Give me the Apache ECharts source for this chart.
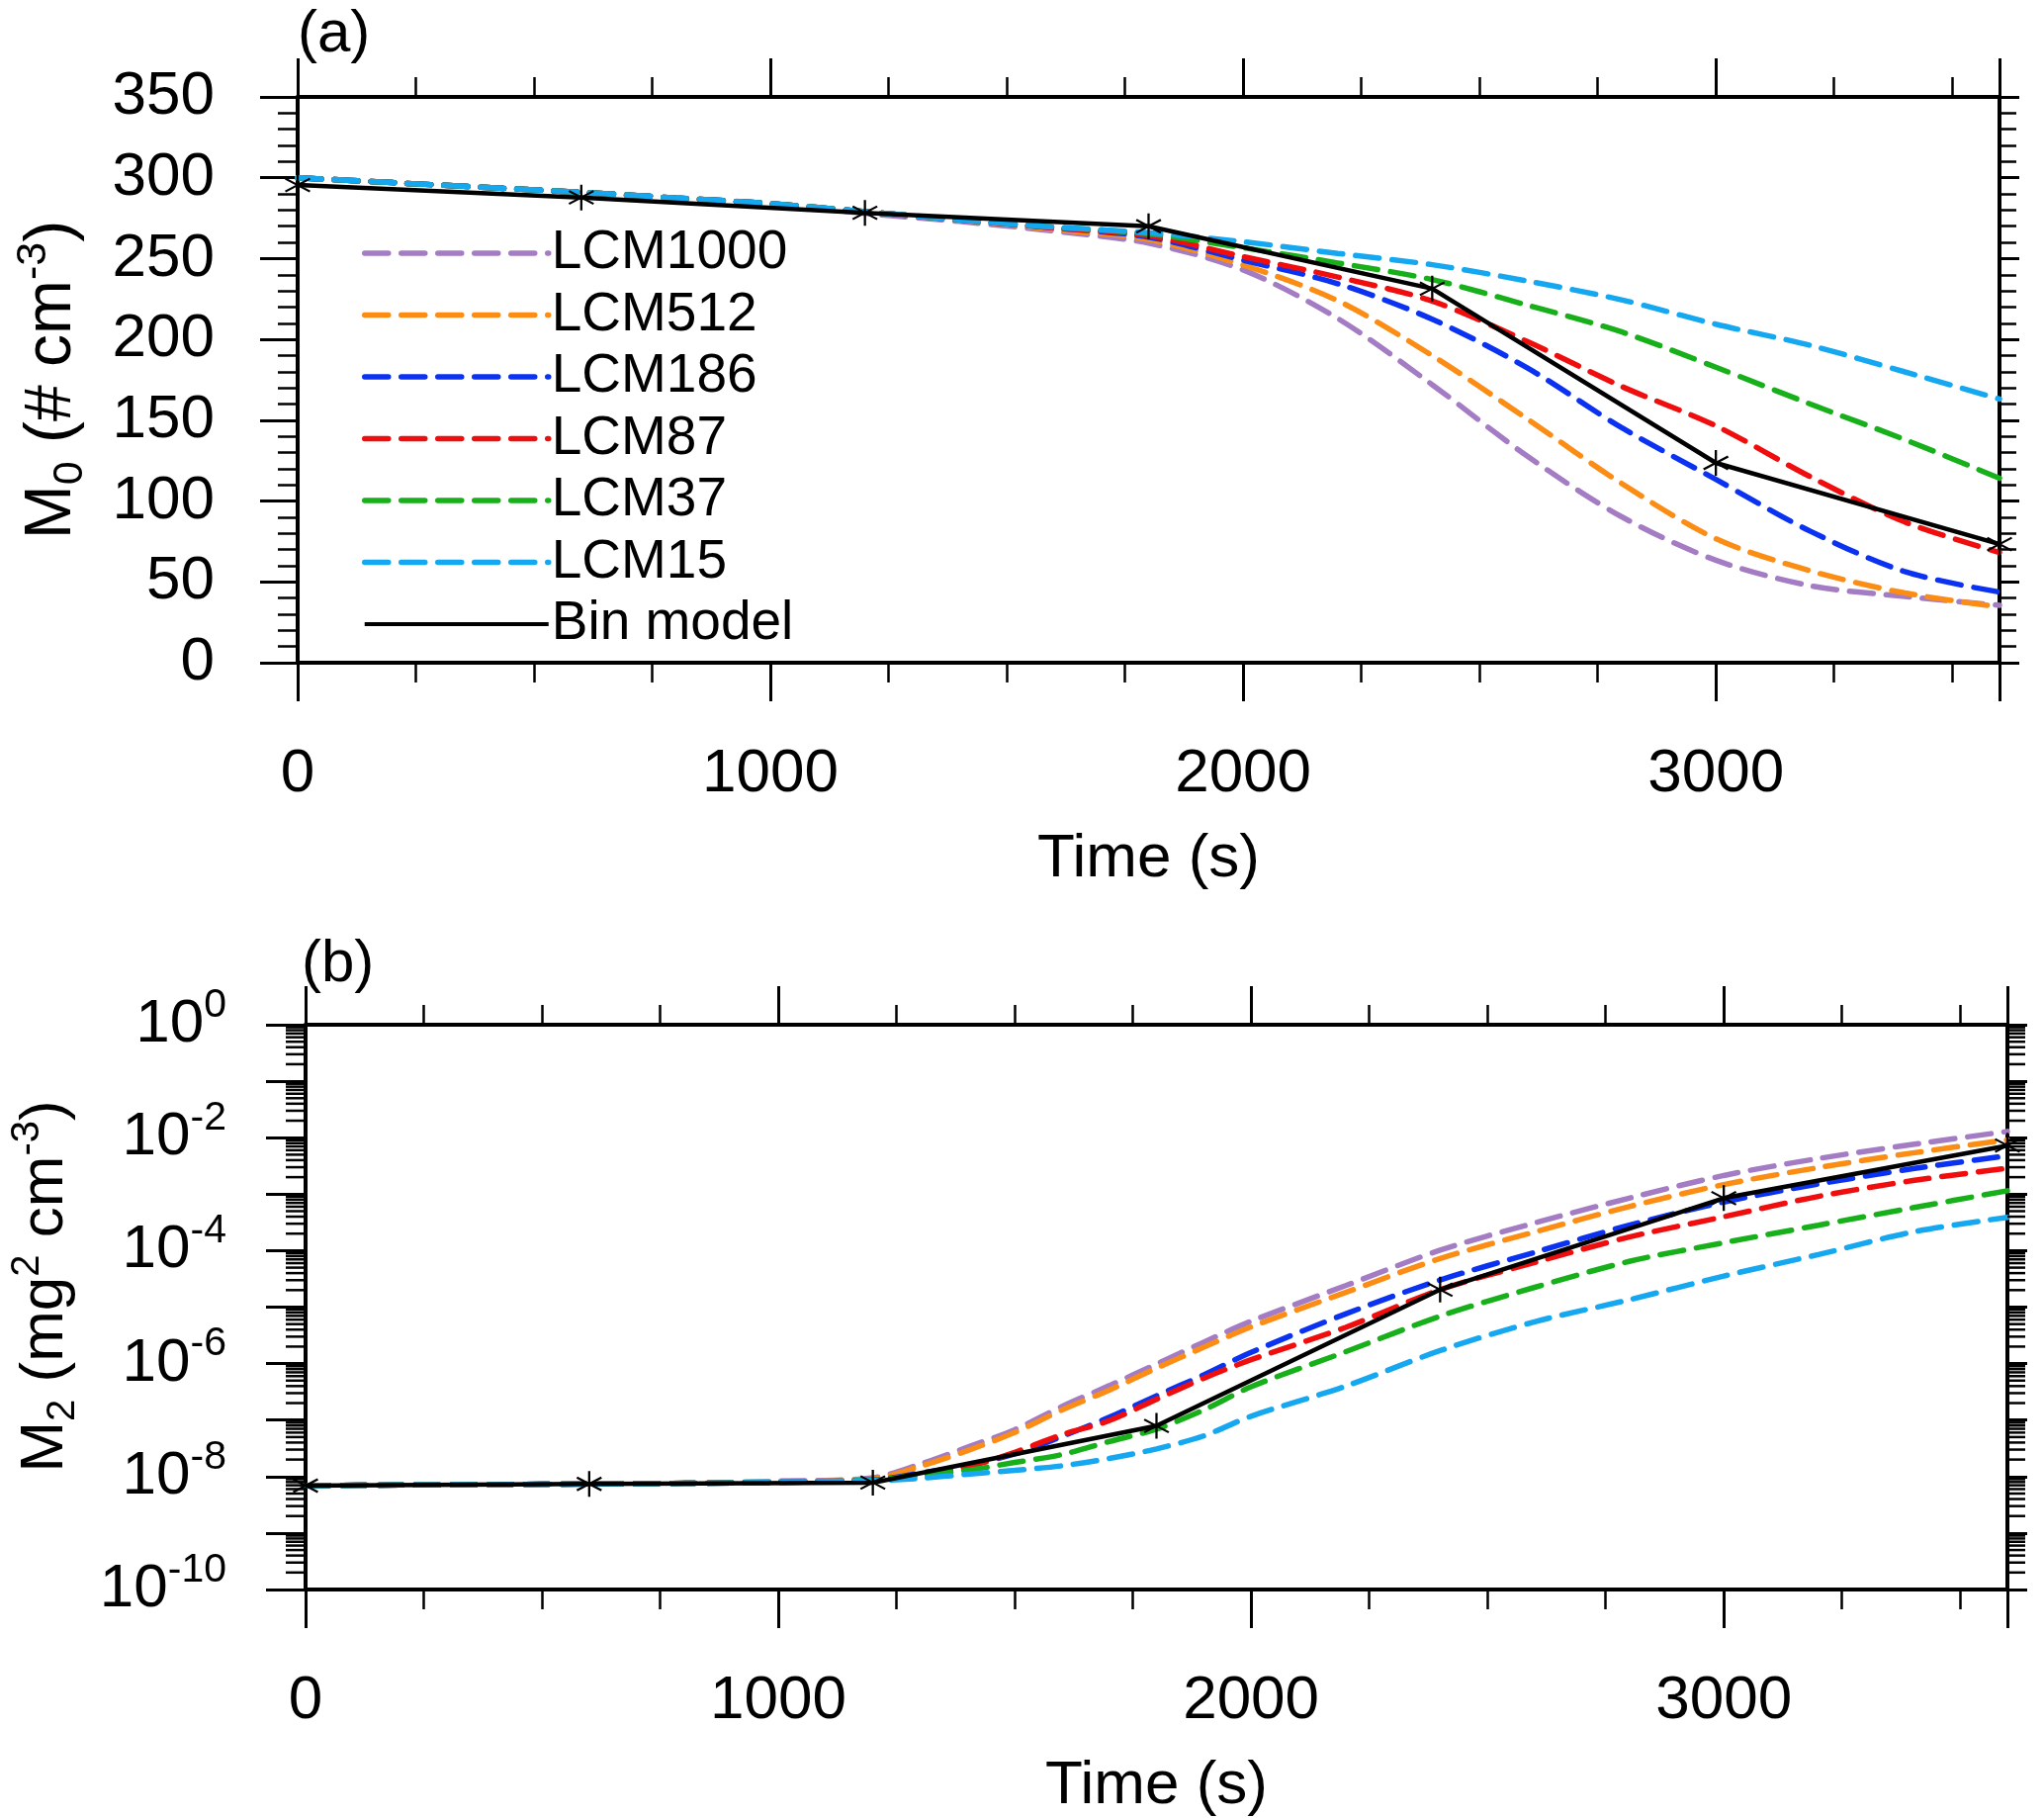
<!DOCTYPE html>
<html><head><meta charset="utf-8">
<script src="https://cdn.jsdelivr.net/npm/echarts@6/dist/echarts.min.js"></script>
<style>html,body{margin:0;padding:0;background:#fff}#c{width:2067px;height:1838px}</style>
</head><body><div id="c"></div>
<script>
// ---------- data ----------
const seriesNames = ['LCM1000', 'LCM512', 'LCM186', 'LCM87', 'LCM37', 'LCM15', 'Bin model'];
const seriesColors = ['#a47cc4', '#fb8c14', '#0a32f0', '#f00d0d', '#17b01a', '#15a8f0', '#000000'];

// panel (a): M0 (# cm^-3)
const timeA = [0, 200, 400, 600, 800, 1000, 1200, 1400, 1600, 1800, 2000, 2200, 2400, 2600, 2800, 3000, 3200, 3400, 3600];
const m0_LCM1000 = [300, 297, 294, 291, 287.5, 284, 278, 273, 267, 259.5, 243, 213, 172, 128, 90.4, 63.4, 47.6, 41.0, 35.5];
const m0_LCM512  = [300, 297, 294, 291, 287.5, 284, 279, 274, 268, 261.8, 246, 224, 190, 151, 111, 76.7, 56.8, 43.1, 34.5];
const m0_LCM186  = [300, 297, 294, 291, 287.5, 284, 279, 274, 269, 263.3, 249, 234.5, 212.5, 182.6, 145.5, 113.4, 81.3, 56.3, 43.7];
const m0_LCM87   = [300, 297, 294, 291, 287.5, 284, 279, 274, 269, 264.2, 251.2, 238.6, 223.7, 198.8, 171, 146.5, 115, 87, 68.2];
const m0_LCM37   = [300, 297, 294, 291, 287.5, 284, 279, 274, 269.5, 265.3, 256.7, 247.3, 237, 221.3, 204.7, 182.8, 160, 138, 114.1];
const m0_LCM15   = [300, 297, 294, 291, 287.5, 284, 279, 274, 269.5, 266, 260.4, 253.2, 246.2, 236.2, 224.5, 209.4, 196.3, 179.9, 163.1];
const binTime = [0, 600, 1200, 1800, 2400, 3000, 3600];
const m0_Bin = [295.5, 287.8, 278.3, 270.0, 231.4, 123.6, 73.3];

// panel (b): M2 (mg^2 cm^-3)
const timeB = [0, 200, 400, 600, 800, 1000, 1200, 1300, 1400, 1500, 1600, 1700, 1800, 1900, 2000, 2200, 2400, 2600, 2800, 3000, 3200, 3400, 3600];
const m2_LCM1000 = [6.9e-9, 7.1e-9, 7.2e-9, 7.4e-9, 7.6e-9, 8.3e-9, 9.5e-9, 1.66e-8, 3.31e-8, 6.76e-8, 1.74e-7, 4.07e-7, 9.77e-7, 2.40e-6, 5.62e-6, 2.40e-5, 1.02e-4, 3.09e-4, 8.51e-4, 2.14e-3, 4.27e-3, 7.59e-3, 1.29e-2];
const m2_LCM512  = [6.9e-9, 7.1e-9, 7.2e-9, 7.4e-9, 7.6e-9, 8.1e-9, 9.1e-9, 1.51e-8, 2.88e-8, 6.03e-8, 1.51e-7, 3.39e-7, 8.32e-7, 1.95e-6, 4.47e-6, 1.82e-5, 7.24e-5, 2.14e-4, 6.03e-4, 1.48e-3, 2.95e-3, 5.37e-3, 9.12e-3];
const m2_LCM186  = [6.9e-9, 7.1e-9, 7.2e-9, 7.4e-9, 7.6e-9, 7.9e-9, 8.7e-9, 1.15e-8, 1.58e-8, 2.51e-8, 5.13e-8, 1.12e-7, 2.69e-7, 6.31e-7, 1.58e-6, 7.59e-6, 3.02e-5, 9.33e-5, 2.82e-4, 7.24e-4, 1.51e-3, 2.82e-3, 4.79e-3];
const m2_LCM87   = [6.9e-9, 7.1e-9, 7.2e-9, 7.4e-9, 7.6e-9, 7.9e-9, 8.7e-9, 1.07e-8, 1.48e-8, 2.69e-8, 5.50e-8, 9.77e-8, 2.34e-7, 5.50e-7, 1.17e-6, 4.37e-6, 2.04e-5, 6.17e-5, 1.74e-4, 3.98e-4, 9.12e-4, 1.74e-3, 2.88e-3];
const m2_LCM37   = [6.9e-9, 7.1e-9, 7.2e-9, 7.4e-9, 7.6e-9, 7.9e-9, 8.7e-9, 1.07e-8, 1.29e-8, 1.78e-8, 2.45e-8, 4.17e-8, 6.92e-8, 1.51e-7, 3.89e-7, 1.62e-6, 6.92e-6, 2.24e-5, 6.46e-5, 1.38e-4, 2.82e-4, 5.75e-4, 1.15e-3];
const m2_LCM15   = [6.9e-9, 7.1e-9, 7.2e-9, 7.4e-9, 7.6e-9, 7.9e-9, 8.5e-9, 9.3e-9, 1.10e-8, 1.29e-8, 1.55e-8, 2.09e-8, 3.09e-8, 5.25e-8, 1.17e-7, 3.98e-7, 1.70e-6, 5.50e-6, 1.35e-5, 3.55e-5, 8.51e-5, 2.14e-4, 3.89e-4];
const m2_Bin = [6.9e-9, 7.4e-9, 7.8e-9, 7.9e-8, 2.04e-5, 8.51e-4, 7.24e-3];

// axis ticks
const timeMin = 0, timeMax = 3600, timeStep = 1000;
const m0Min = 0, m0Max = 350, m0Step = 50;
const m2Min = 1e-10, m2Max = 1;
const logMinorMultipliers = [2, 3, 4, 5, 6, 7, 8, 9];
const logDecades = [-10, -9, -8, -7, -6, -5, -4, -3, -2, -1];

// ---------- chart ----------
const FONT = 'Liberation Sans';
const chart = echarts.init(document.getElementById('c'), null, {renderer: 'canvas'});

const lcmA = [m0_LCM1000, m0_LCM512, m0_LCM186, m0_LCM87, m0_LCM37, m0_LCM15];
const lcmB = [m2_LCM1000, m2_LCM512, m2_LCM186, m2_LCM87, m2_LCM37, m2_LCM15];
const zip = (xs, ys) => xs.map((x, i) => [x, ys[i]]);

const asterisk = 'path://M46,0L54,0L54,100L46,100Z M8.7,78.46L95.3,28.46L91.3,21.54L4.7,71.54Z M4.7,28.46L91.3,78.46L95.3,71.54L8.7,21.54Z';

function timeAxis(grid, pos, showLabel) {
  return {
    gridIndex: grid, type: 'value', position: pos, min: timeMin, max: timeMax, interval: timeStep,
    axisLine: {show: true, onZero: false, lineStyle: {color: '#000', width: 4}},
    axisTick: {show: true, length: 39, lineStyle: {color: '#000', width: 3}},
    minorTick: {show: true, splitNumber: 4, length: 20, lineStyle: {color: '#000', width: 2.5}},
    splitLine: {show: false},
    axisLabel: {show: showLabel, margin: 82, fontSize: 62, color: '#000', fontFamily: FONT, showMaxLabel: false,
                formatter: v => String(v)},
    name: showLabel ? 'Time (s)' : '', nameLocation: 'middle', nameGap: 168,
    nameTextStyle: {fontSize: 62, color: '#000', fontFamily: FONT}
  };
}

function richName(size) {
  const sub = Math.round(size * 0.65);
  return {
    m: {fontSize: size, color: '#000', fontFamily: FONT, lineHeight: size + 14},
    sub: {fontSize: sub, color: '#000', fontFamily: FONT, verticalAlign: 'bottom', lineHeight: sub},
    sup: {fontSize: sub, color: '#000', fontFamily: FONT, verticalAlign: 'top', lineHeight: sub}
  };
}

function m0Axis(pos, showLabel) {
  return {
    gridIndex: 0, type: 'value', position: pos, min: m0Min, max: m0Max, interval: m0Step,
    axisLine: {show: true, onZero: false, lineStyle: {color: '#000', width: 4}},
    axisTick: {show: true, length: showLabel ? 38 : 20, lineStyle: {color: '#000', width: 3}},
    minorTick: {show: true, splitNumber: 5, length: showLabel ? 20 : 17, lineStyle: {color: '#000', width: 2.5}},
    splitLine: {show: false},
    axisLabel: {show: showLabel, margin: 84, fontSize: 62, color: '#000', fontFamily: FONT},
    name: showLabel ? '{m|M}{sub|0}{m| (# cm}{sup|-3}{m|)}' : '', nameLocation: 'middle', nameRotate: 90, nameGap: 208,
    nameTextStyle: {rich: richName(66)}
  };
}

function m2Axis(pos, showLabel) {
  return {
    gridIndex: 1, type: 'log', logBase: 10, position: pos, min: m2Min, max: m2Max, interval: 1,
    axisLine: {show: true, onZero: false, lineStyle: {color: '#000', width: 4}},
    axisTick: {show: true, length: showLabel ? 40 : 20, lineStyle: {color: '#000', width: 3}},
    minorTick: {show: false},
    splitLine: {show: false},
    axisLabel: {
      show: showLabel, margin: 80,
      formatter: v => {
        const e = Math.round(Math.log10(v));
        if (e % 2 !== 0) return '';
        return '{b|10}{s|' + e + '}';
      },
      rich: {
        b: {fontSize: 62, color: '#000', fontFamily: FONT, lineHeight: 80},
        s: {fontSize: 41, color: '#000', fontFamily: FONT, verticalAlign: 'top', lineHeight: 41}
      }
    },
    name: showLabel ? '{m|M}{sub|2}{m| (mg}{sup|2}{m| cm}{sup|-3}{m|)}' : '', nameLocation: 'middle', nameRotate: 90, nameGap: 225,
    nameTextStyle: {rich: richName(62), padding: [0, 0, 0, 42]}
  };
}

const series = [];
seriesNames.forEach((name, i) => {
  const isBin = name === 'Bin model';
  const common = {
    name: name, type: 'line', color: seriesColors[i],
    showSymbol: isBin, symbol: isBin ? asterisk : 'none', symbolSize: 26,
    itemStyle: {color: seriesColors[i]},
    lineStyle: isBin ? {width: 4.5, color: '#000', type: 'solid'}
                     : {width: 5.5, color: seriesColors[i], type: [24, 13], cap: 'round'},
    smooth: isBin ? false : 0.3,
    z: isBin ? 10 : 3,
    animation: false
  };
  series.push(Object.assign({}, common, {
    xAxisIndex: 0, yAxisIndex: 0,
    data: isBin ? zip(binTime, m0_Bin) : zip(timeA, lcmA[i])
  }));
  series.push(Object.assign({}, common, {
    xAxisIndex: 2, yAxisIndex: 2,
    data: isBin ? zip(binTime, m2_Bin) : zip(timeB, lcmB[i])
  }));
});

// log-axis minor ticks (2..9 within each decade), drawn at both sides of panel (b)
const minorTickValues = [];
logDecades.forEach(d => logMinorMultipliers.forEach(k => minorTickValues.push([timeMin, k * Math.pow(10, d)])));
series.push({
  type: 'custom', xAxisIndex: 2, yAxisIndex: 2, silent: true, clip: false, animation: false, z: 20,
  data: minorTickValues,
  renderItem: (params, api) => {
    const v = api.value(1);
    const pL = api.coord([timeMin, v]);
    const pR = api.coord([timeMax, v]);
    return {type: 'group', children: [
      {type: 'line', shape: {x1: pL[0] - 20, y1: pL[1], x2: pL[0], y2: pL[1]}, style: {stroke: '#000', lineWidth: 2.5}},
      {type: 'line', shape: {x1: pR[0], y1: pR[1], x2: pR[0] + 18, y2: pR[1]}, style: {stroke: '#000', lineWidth: 2.5}}
    ]};
  }
});

const option = {
  backgroundColor: '#fff',
  animation: false,
  title: [
    {text: '(a)', left: 296, top: 0, textStyle: {fontSize: 60, fontWeight: 'normal', color: '#000', fontFamily: FONT}},
    {text: '(b)', left: 300, top: 940, textStyle: {fontSize: 60, fontWeight: 'normal', color: '#000', fontFamily: FONT}}
  ],
  grid: [
    {left: 301, right: 45, top: 98, bottom: 1168},
    {left: 309, right: 37, top: 1036, bottom: 231}
  ],
  xAxis: [
    timeAxis(0, 'bottom', true),
    timeAxis(0, 'top', false),
    timeAxis(1, 'bottom', true),
    timeAxis(1, 'top', false)
  ],
  yAxis: [
    m0Axis('left', true),
    m0Axis('right', false),
    m2Axis('left', true),
    m2Axis('right', false)
  ],
  legend: {
    data: seriesNames.map(n => n === 'Bin model' ? {name: n, lineStyle: {width: 4}} : {name: n}),
    orient: 'vertical', left: 366, top: 226, padding: 0,
    itemWidth: 186, itemHeight: 20, itemGap: 2.5,
    itemStyle: {opacity: 0},
    lineStyle: {width: 5.5},
    textStyle: {fontSize: 55, color: '#000', fontFamily: FONT, lineHeight: 60, padding: [0, 0, 0, -2]},
    selectedMode: false
  },
  series: series
};
chart.setOption(option);
</script>
</body></html>
